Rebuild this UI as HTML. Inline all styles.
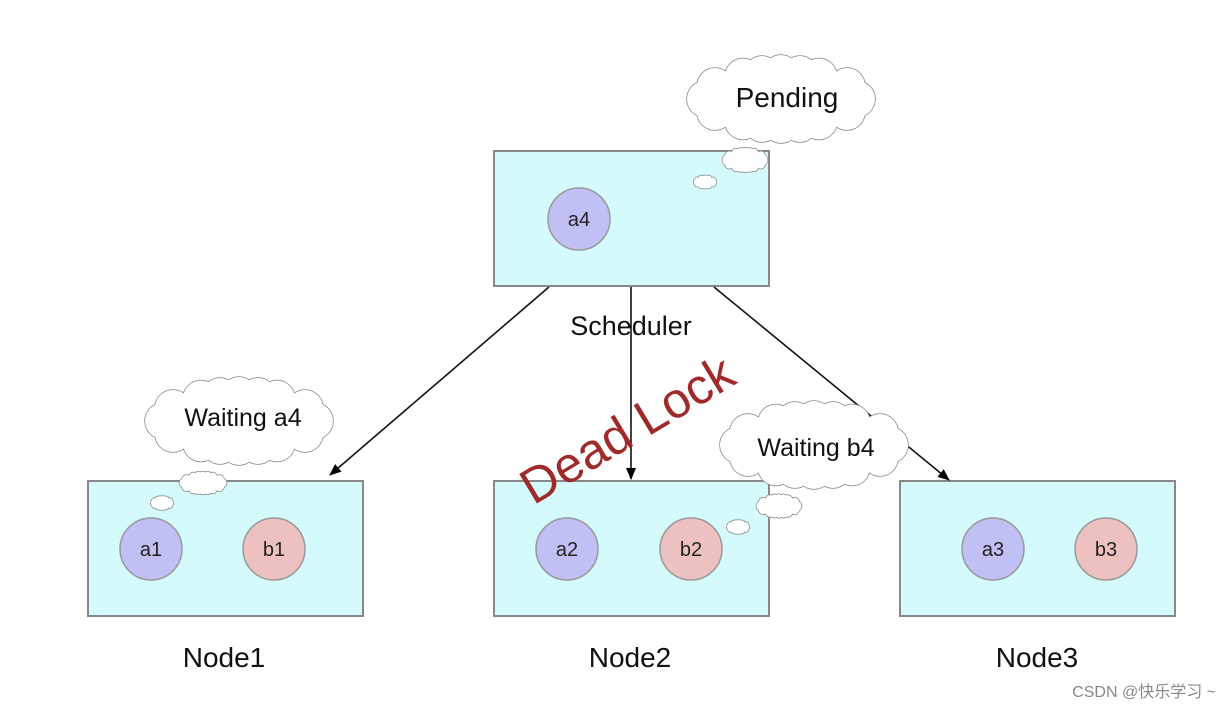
<!DOCTYPE html>
<html><head><meta charset="utf-8"><style>
html,body{margin:0;padding:0;background:#fff;}
svg{display:block;font-family:"Liberation Sans",Arial,sans-serif;}
#cs circle{vector-effect:non-scaling-stroke;}
</style></head><body>
<svg width="1232" height="710" viewBox="0 0 1232 710" xmlns="http://www.w3.org/2000/svg">
<defs>
<g id="cs">
<circle cx="76" cy="0" r="18"/><circle cx="66" cy="13" r="18"/><circle cx="38" cy="22.5" r="18"/>
<circle cx="19" cy="25" r="18"/><circle cx="0" cy="26" r="18"/><circle cx="-19" cy="25" r="18"/>
<circle cx="-38" cy="22.5" r="18"/><circle cx="-66" cy="13" r="18"/><circle cx="-76" cy="0" r="18"/>
<circle cx="-66" cy="-13" r="18"/><circle cx="-38" cy="-22.5" r="18"/><circle cx="-19" cy="-25" r="18"/>
<circle cx="0" cy="-26" r="18"/><circle cx="19" cy="-25" r="18"/><circle cx="38" cy="-22.5" r="18"/>
<circle cx="66" cy="-13" r="18"/>
</g>
<g id="cloud">
<use href="#cs" fill="#fff" stroke="#888" stroke-width="1.5"/>
<ellipse cx="0" cy="0" rx="80" ry="30" fill="#fff"/>
<use href="#cs" fill="#fff" stroke="none"/>
</g>
<marker id="ah" markerWidth="12" markerHeight="10" refX="11" refY="5" orient="auto" markerUnits="userSpaceOnUse">
<path d="M0,0 L12,5 L0,10 z" fill="#000"/>
</marker>
</defs>

<g fill="#d4fafb" stroke="#888" stroke-width="2">
<rect x="494" y="151" width="275" height="135"/>
<rect x="88" y="481" width="275" height="135"/>
<rect x="494" y="481" width="275" height="135"/>
<rect x="900" y="481" width="275" height="135"/>
</g>

<g stroke="#999" stroke-width="1.5">
<circle cx="579" cy="219" r="31" fill="#c1c0f5"/>
<circle cx="151" cy="549" r="31" fill="#c1c0f5"/>
<circle cx="274" cy="549" r="31" fill="#ecc1c0"/>
<circle cx="567" cy="549" r="31" fill="#c1c0f5"/>
<circle cx="691" cy="549" r="31" fill="#ecc1c0"/>
<circle cx="993" cy="549" r="31" fill="#c1c0f5"/>
<circle cx="1106" cy="549" r="31" fill="#ecc1c0"/>
</g>
<g font-size="20" fill="#222" text-anchor="middle">
<text x="579" y="226">a4</text>
<text x="151" y="556">a1</text>
<text x="274" y="556">b1</text>
<text x="567" y="556">a2</text>
<text x="691" y="556">b2</text>
<text x="993" y="556">a3</text>
<text x="1106" y="556">b3</text>
</g>

<g stroke="#111" stroke-width="1.6" marker-end="url(#ah)">
<line x1="549" y1="287" x2="330" y2="475"/>
<line x1="631" y1="287" x2="631" y2="479"/>
<line x1="714" y1="287" x2="949" y2="480"/>
</g>

<use href="#cloud" transform="translate(781,99)"/>
<use href="#cloud" transform="translate(745,160) scale(0.24,0.28)"/>
<use href="#cloud" transform="translate(705,182) scale(0.12,0.15)"/>
<use href="#cloud" transform="translate(239,421)"/>
<use href="#cloud" transform="translate(203,483) scale(0.25,0.26)"/>
<use href="#cloud" transform="translate(162,503) scale(0.12,0.16)"/>
<use href="#cloud" transform="translate(814,445)"/>
<use href="#cloud" transform="translate(779,506) scale(0.24,0.27)"/>
<use href="#cloud" transform="translate(738,527) scale(0.12,0.16)"/>

<g fill="#111" text-anchor="middle">
<text x="787" y="107" font-size="28">Pending</text>
<text x="243" y="426" font-size="25">Waiting a4</text>
<text x="816" y="456" font-size="25">Waiting b4</text>
<text x="631" y="335" font-size="27">Scheduler</text>
<text x="224" y="667" font-size="28">Node1</text>
<text x="630" y="667" font-size="28">Node2</text>
<text x="1037" y="667" font-size="28">Node3</text>
</g>

<text x="636" y="444" font-size="50" fill="#a02a2a" text-anchor="middle" transform="rotate(-31 636 444)">Dead Lock</text>

<text x="1216" y="697" font-size="16" fill="#888" text-anchor="end" font-family="'Liberation Sans','Noto Sans CJK SC',sans-serif">CSDN @快乐学习 ~</text>
</svg>
</body></html>
